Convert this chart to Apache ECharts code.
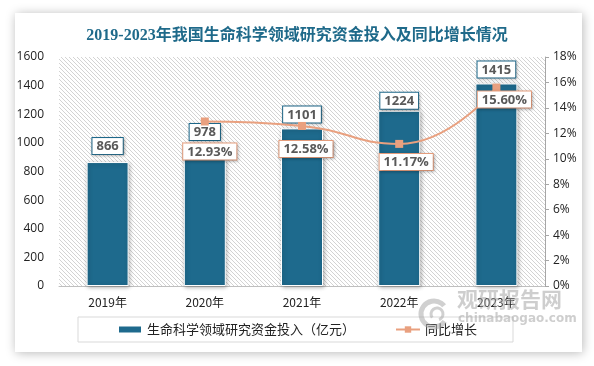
<!DOCTYPE html>
<html>
<head>
<meta charset="utf-8">
<script src="https://cdn.jsdelivr.net/npm/echarts@6/dist/echarts.min.js"></script>
<style>
html,body{margin:0;padding:0;background:#fff;}
#c{width:594px;height:366px;}
</style>
</head>
<body>
<div id="c"></div>
<script>
// ---- data ----
const categories = ['2019年', '2020年', '2021年', '2022年', '2023年'];
const investment = [866, 978, 1101, 1224, 1415];        // 亿元
const growth = [null, 12.93, 12.58, 11.17, 15.60];       // %
const leftTicks = { min: 0, max: 1600, interval: 200 };
const rightTicks = { min: 0, max: 18, interval: 2 };
const titleText = '2019-2023年我国生命科学领域研究资金投入及同比增长情况';
const barName = '生命科学领域研究资金投入（亿元）';
const lineName = '同比增长';

// hatch pattern
const pc = document.createElement('canvas');
pc.width = 4; pc.height = 4;
const pctx = pc.getContext('2d');
pctx.fillStyle = '#ffffff';
pctx.fillRect(0, 0, 4, 4);
pctx.fillStyle = '#d3d3d3';
for (let i = 0; i < 4; i++) pctx.fillRect(i, i, 1, 1);

const BAR = '#1E6A8D';
const LINE = '#E9A07F';
const FONT = "'Noto Sans CJK SC', 'Open Sans', sans-serif";

const barLabelOffsets = [[0, -2], [0, 0], [0, 0], [0, 4], [0, 0]];
const lineLabelOffsets = [null, [5, 13], [4, 6], [7, 1], [8, -5]];

const chart = echarts.init(document.getElementById('c'), null, { renderer: 'canvas' });
chart.setOption({
  backgroundColor: '#ffffff',
  animation: false,
  title: {
    text: titleText,
    left: 'center',
    top: 23,
    textStyle: {
      fontFamily: "'Liberation Serif', 'Noto Sans CJK SC', serif",
      fontWeight: 'bold',
      fontSize: 16,
      color: '#1F6A8A'
    }
  },
  graphic: [
    {
      type: 'rect', z: -10, silent: true,
      shape: { x: 15, y: 13, width: 567, height: 339 },
      style: { fill: '#fff', shadowBlur: 10, shadowColor: 'rgba(0,0,0,0.28)', shadowOffsetX: 1, shadowOffsetY: 1 }
    },
    {
      type: 'arc', z: 100, silent: true,
      shape: { cx: 434, cy: 314, r: 13, startAngle: 0.6, endAngle: 5.6 },
      style: { stroke: 'rgba(170,170,170,0.55)', lineWidth: 5, fill: null }
    },
    {
      type: 'arc', z: 100, silent: true,
      shape: { cx: 437, cy: 314, r: 6, startAngle: 2.5, endAngle: 7.5 },
      style: { stroke: 'rgba(170,170,170,0.55)', lineWidth: 3, fill: null }
    },
    {
      type: 'text', z: 100, silent: true,
      left: 457, top: 289,
      style: { text: '观研报告网', fill: 'rgba(165,165,165,0.55)', font: "bold 21px 'Noto Sans CJK SC'" }
    },
    {
      type: 'text', z: 100, silent: true,
      left: 458, top: 313,
      style: { text: 'chinabaogao.com', fill: 'rgba(165,165,165,0.55)', font: "bold 12px 'DejaVu Sans'" }
    }
  ],
  grid: {
    left: 59, right: 49, top: 57, bottom: 80,
    show: true,
    borderWidth: 0,
    backgroundColor: { image: pc, repeat: 'repeat' }
  },
  legend: {
    left: 78, top: 317,
    padding: [6, 36, 6, 39],
    borderColor: '#d9d9d9', borderWidth: 1,
    itemGap: 40,
    itemWidth: 24, itemHeight: 8,
    textStyle: { fontFamily: FONT, fontSize: 13, color: '#222' },
    data: [
      { name: barName, icon: 'rect' },
      { name: lineName }
    ]
  },
  xAxis: {
    type: 'category',
    data: categories,
    axisLine: { show: true, lineStyle: { color: '#bfbfbf', width: 1 } },
    axisTick: { show: false },
    axisLabel: { color: '#222', fontSize: 12, fontFamily: FONT, margin: 10 }
  },
  yAxis: [
    {
      type: 'value',
      min: leftTicks.min, max: leftTicks.max, interval: leftTicks.interval,
      axisLine: { show: false },
      axisTick: { show: false },
      splitLine: { show: false },
      axisLabel: { color: '#222', fontSize: 12, fontFamily: "'Open Sans', sans-serif", margin: 15, formatter: v => String(v) }
    },
    {
      type: 'value',
      position: 'right',
      min: rightTicks.min, max: rightTicks.max, interval: rightTicks.interval,
      axisLine: { show: true, lineStyle: { color: '#a6a6a6' } },
      axisTick: { show: true, length: 4, lineStyle: { color: '#a6a6a6' } },
      splitLine: { show: false },
      axisLabel: { color: '#222', fontSize: 12, fontFamily: "'Open Sans', sans-serif", margin: 8, formatter: v => v + '%' }
    }
  ],
  series: [
    {
      name: barName,
      type: 'bar',
      barWidth: 42,
      data: investment.map((v, i) => ({
        value: v,
        label: { offset: barLabelOffsets[i] }
      })),
      itemStyle: {
        color: BAR,
        borderColor: '#fff', borderWidth: 1,
        shadowBlur: 4, shadowColor: 'rgba(0,0,0,0.3)', shadowOffsetX: 1, shadowOffsetY: 1
      },
      label: {
        show: true, position: 'top', distance: 6,
        color: '#595959', fontWeight: 'bold', fontSize: 13,
        fontFamily: "'Open Sans', sans-serif",
        backgroundColor: '#fff', borderColor: BAR, borderWidth: 1,
        padding: [2, 4, 1, 4],
        shadowBlur: 3, shadowColor: 'rgba(0,0,0,0.25)', shadowOffsetX: 1, shadowOffsetY: 1
      }
    },
    {
      name: lineName,
      type: 'line',
      yAxisIndex: 1,
      smooth: true,
      symbol: 'rect',
      symbolSize: 8,
      connectNulls: false,
      data: growth.map((v, i) => (v === null ? null : {
        value: v,
        label: { offset: lineLabelOffsets[i] }
      })),
      lineStyle: { color: LINE, width: 2 },
      itemStyle: { color: LINE },
      label: {
        show: true, position: 'bottom', distance: 5,
        formatter: p => p.value.toFixed(2) + '%',
        color: '#595959', fontWeight: 'bold', fontSize: 13,
        fontFamily: "'Open Sans', sans-serif",
        backgroundColor: '#fff', borderColor: LINE, borderWidth: 1,
        padding: [2, 4, 1, 4],
        shadowBlur: 3, shadowColor: 'rgba(0,0,0,0.25)', shadowOffsetX: 1, shadowOffsetY: 1
      }
    }
  ]
});
</script>
</body>
</html>
